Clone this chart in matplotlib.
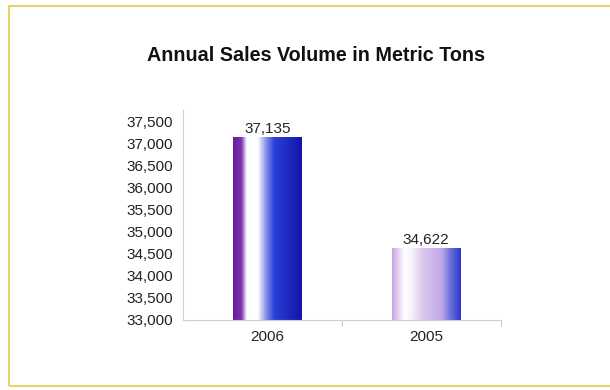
import matplotlib.pyplot as plt
import numpy as np
from matplotlib.colors import LinearSegmentedColormap
from matplotlib.patches import Rectangle

years = ['2006', '2005']
volumes = [37135, 34622]
yticks = [33000, 33500, 34000, 34500, 35000, 35500, 36000, 36500, 37000, 37500]

plt.rcParams['font.family'] = ['Liberation Sans', 'DejaVu Sans']

# horizontal shading for each bar
shades = [
    LinearSegmentedColormap.from_list('y2006', [
        (0.0, '#6a1c9c'), (0.12, '#7a30b0'), (0.2, '#ffffff'), (0.36, '#ffffff'),
        (0.48, '#8890e8'), (0.6, '#2a40d8'), (1.0, '#1414a8')]),
    LinearSegmentedColormap.from_list('y2005', [
        (0.0, '#c8a4e4'), (0.18, '#ffffff'), (0.3, '#f4eefa'), (0.45, '#dcc6ee'),
        (0.72, '#c0a8e6'), (0.85, '#6a70dc'), (1.0, '#2a38cc')]),
]

fig = plt.figure(figsize=(6.1, 3.9), dpi=100)
fig.patches.append(Rectangle((9 / 610, 4 / 390), 1.0, 380 / 390, transform=fig.transFigure,
                             fill=False, edgecolor='#e6d46a', linewidth=1.5))
fig.text(0.518, 0.858, 'Annual Sales Volume in Metric Tons', ha='center', va='center',
         fontsize=14.2, fontweight='bold', color='#111111')

ax = fig.add_axes([0.3, 0.1795, 0.521, 0.5385])
ax.set_xlim(-0.5, 1.5)
ax.set_ylim(33000, 37750)
bottom = 33000
width = 0.43
shift = 0.03
grad = np.linspace(0, 1, 256).reshape(1, -1)
for i, (v, cmap) in enumerate(zip(volumes, shades)):
    x0 = i - width / 2 + shift
    ax.imshow(grad, cmap=cmap, aspect='auto', extent=(x0, x0 + width, bottom, v),
              zorder=2, interpolation='bilinear')
    ax.text(i + shift, v + 30, f'{v:,}', ha='center', va='bottom', fontsize=11, color='#222222')

ax.set_xticks([i + shift for i in range(len(years))], years)
ax.set_xticks([0.5, 1.5], minor=True)
ax.tick_params(axis='x', which='major', length=0, pad=7, labelsize=11, labelcolor='#222222')
ax.tick_params(axis='x', which='minor', length=4, color='#bbbbbb')
ax.set_yticks(yticks, [f'{t:,}' for t in yticks])
ax.tick_params(axis='y', length=0, pad=7, labelsize=11, labelcolor='#222222')
for side in ['top', 'right']:
    ax.spines[side].set_visible(False)
for side in ['left', 'bottom']:
    ax.spines[side].set_color('#d0d0c8')

fig.savefig('out.png', dpi=100)
